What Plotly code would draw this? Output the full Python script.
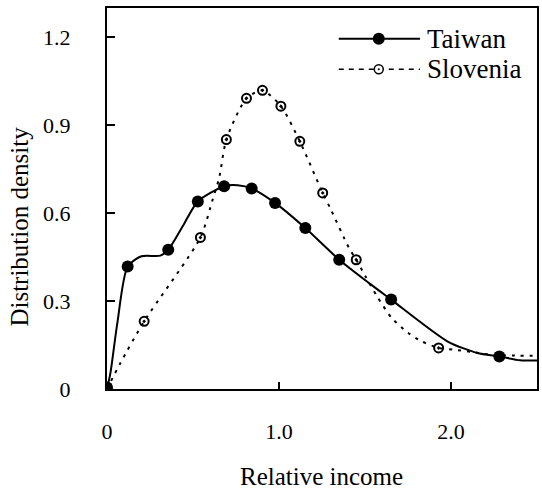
import plotly.graph_objects as go

# Smoothed density curves
taiwan_curve_x = [0, 0.02, 0.06, 0.12, 0.2, 0.31, 0.356, 0.44, 0.528, 0.681, 0.76, 0.841,
                  0.977, 1.153, 1.35, 1.522, 1.652, 1.981, 2.153, 2.281, 2.402, 2.5]
taiwan_curve_y = [0, 0.055, 0.225, 0.418, 0.453, 0.455, 0.475, 0.555, 0.640, 0.692, 0.695, 0.684,
                  0.635, 0.549, 0.441, 0.362, 0.305, 0.162, 0.123, 0.111, 0.098, 0.097]

slovenia_curve_x = [0, 0.078, 0.216, 0.543, 0.614, 0.652, 0.694, 0.811, 0.904, 1.011, 1.121,
                    1.254, 1.302, 1.407, 1.449, 1.503, 1.570, 1.656, 1.752, 1.828, 1.928,
                    2.02, 2.163, 2.23, 2.373, 2.5]
slovenia_curve_y = [0, 0.089, 0.231, 0.517, 0.646, 0.72, 0.851, 0.992, 1.019, 0.965, 0.845,
                    0.669, 0.612, 0.481, 0.441, 0.384, 0.316, 0.242, 0.191, 0.163, 0.140,
                    0.134, 0.123, 0.117, 0.114, 0.113]

# Sampled points
taiwan_x = [0, 0.120, 0.356, 0.528, 0.681, 0.841, 0.977, 1.153, 1.350, 1.652, 2.281]
taiwan_y = [0.005, 0.418, 0.475, 0.640, 0.692, 0.684, 0.635, 0.549, 0.441, 0.305, 0.111]

slovenia_x = [0.216, 0.543, 0.694, 0.811, 0.904, 1.011, 1.121, 1.254, 1.449, 1.928]
slovenia_y = [0.231, 0.517, 0.851, 0.992, 1.019, 0.965, 0.845, 0.669, 0.441, 0.140]

x_ticks = [0, 1.0, 2.0]
x_tick_labels = ["0", "1.0", "2.0"]
y_ticks = [0, 0.3, 0.6, 0.9, 1.2]
y_tick_labels = ["0", "0.3", "0.6", "0.9", "1.2"]

series_names = ["Taiwan", "Slovenia"]

FONT = '"Liberation Serif", "Times New Roman", Times, serif'
SLOV_DASH = "3px,6px"

fig = go.Figure()

fig.add_trace(go.Scatter(
    x=slovenia_curve_x, y=slovenia_curve_y, mode="lines",
    line=dict(color="black", width=2, dash=SLOV_DASH, shape="spline", smoothing=0.7),
    showlegend=False, hoverinfo="skip"))
fig.add_trace(go.Scatter(
    x=taiwan_curve_x, y=taiwan_curve_y, mode="lines",
    line=dict(color="black", width=2, shape="spline", smoothing=0.7),
    showlegend=False, hoverinfo="skip"))
fig.add_trace(go.Scatter(
    x=slovenia_x, y=slovenia_y, mode="markers", name=series_names[1],
    marker=dict(symbol="circle-open-dot", size=9, color="black", line=dict(width=2, color="black")),
    showlegend=False))
fig.add_trace(go.Scatter(
    x=taiwan_x, y=taiwan_y, mode="markers", name=series_names[0],
    marker=dict(symbol="circle", size=12, color="black"),
    showlegend=False))

# Legend drawn in the upper-right corner
shapes = []
annotations = []
legend_rows = [
    (series_names[0], 0.9194, None, True),
    (series_names[1], 0.8394, "5px,5px", False),
]
for name, yy, dash, filled in legend_rows:
    shapes.append(dict(type="line", xref="paper", yref="paper", x0=0.539, x1=0.728, y0=yy, y1=yy,
                       line=dict(color="black", width=2 if filled else 1.5, dash=dash or "solid")))
    r = 6 if filled else 4.5
    shapes.append(dict(type="circle", xref="paper", yref="paper",
                       xsizemode="pixel", ysizemode="pixel", xanchor=0.632, yanchor=yy,
                       x0=-r, x1=r, y0=-r, y1=r,
                       fillcolor="black" if filled else "white",
                       line=dict(color="black", width=0 if filled else 1.5)))
    if not filled:
        shapes.append(dict(type="circle", xref="paper", yref="paper",
                           xsizemode="pixel", ysizemode="pixel", xanchor=0.632, yanchor=yy,
                           x0=-1, x1=1, y0=-1, y1=1, fillcolor="black",
                           line=dict(color="black", width=0)))
    annotations.append(dict(text=name, xref="paper", yref="paper", x=0.743, y=yy,
                            xanchor="left", yanchor="middle", showarrow=False, borderpad=0,
                            font=dict(family=FONT, size=27, color="black")))

annotations.append(dict(text="Relative income", xref="paper", yref="paper", x=0.499, y=-0.23,
                        xanchor="center", yanchor="middle", showarrow=False,
                        font=dict(family=FONT, size=25, color="black")))
annotations.append(dict(text="Distribution density", xref="paper", yref="paper", x=-0.204, y=0.427,
                        xanchor="center", yanchor="middle", textangle=-90, showarrow=False,
                        font=dict(family=FONT, size=25, color="black")))

fig.update_layout(
    width=542, height=489,
    margin=dict(l=107, r=3, t=8, b=100),
    paper_bgcolor="white", plot_bgcolor="white",
    shapes=shapes, annotations=annotations,
    showlegend=False,
    font=dict(family=FONT, color="black"),
)
fig.update_xaxes(
    range=[0, 2.5], tickvals=x_ticks, ticktext=x_tick_labels,
    ticks="inside", ticklen=7, tickwidth=2, tickcolor="black",
    showline=True, linewidth=2, linecolor="black", mirror=True,
    showgrid=False, zeroline=False, ticklabelstandoff=22,
    tickfont=dict(family=FONT, size=22, color="black"))
fig.update_yaxes(
    range=[0, 1.3], tickvals=y_ticks, ticktext=y_tick_labels,
    ticks="inside", ticklen=8, tickwidth=2, tickcolor="black",
    showline=True, linewidth=2, linecolor="black", mirror=True,
    showgrid=False, zeroline=False, ticklabelstandoff=30,
    tickfont=dict(family=FONT, size=22, color="black"))

fig.write_html("out.html")
